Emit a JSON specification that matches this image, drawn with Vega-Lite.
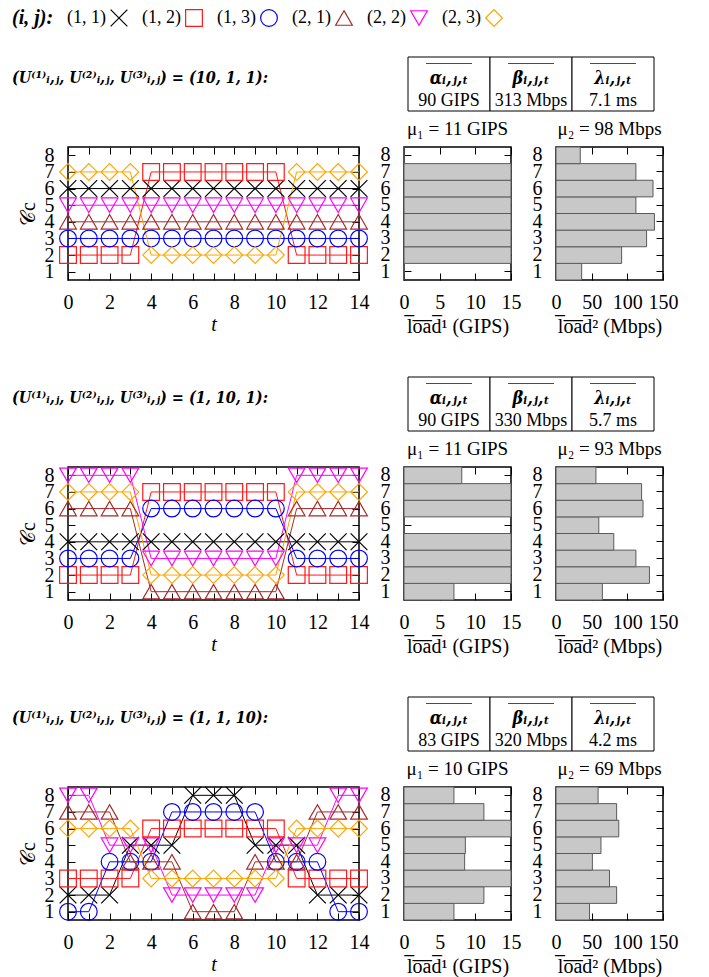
{
"$schema": "https://vega.github.io/schema/vega-lite/v6.json",
"background": "white",
"padding": {"left": 1, "top": 2, "right": 0, "bottom": 2},
"columns": 4,
"bounds": "flush",
"align": "each",
"spacing": {"row": 0, "column": 45},
"datasets": {
"legend": [
{"s":"11","lab":"(1, 1)"},{"s":"12","lab":"(1, 2)"},{"s":"13","lab":"(1, 3)"},{"s":"21","lab":"(2, 1)"},{"s":"22","lab":"(2, 2)"},{"s":"23","lab":"(2, 3)"}],
"titles": [
{"p":1,"lab":"(U⁽¹⁾ᵢ,ⱼ, U⁽²⁾ᵢ,ⱼ, U⁽³⁾ᵢ,ⱼ) = (10, 1, 1):"},
{"p":2,"lab":"(U⁽¹⁾ᵢ,ⱼ, U⁽²⁾ᵢ,ⱼ, U⁽³⁾ᵢ,ⱼ) = (1, 10, 1):"},
{"p":3,"lab":"(U⁽¹⁾ᵢ,ⱼ, U⁽²⁾ᵢ,ⱼ, U⁽³⁾ᵢ,ⱼ) = (1, 1, 10):"}],
"tables": [
{"p":1,"col":"a","head":"αᵢ,ⱼ,ₜ","val":"90 GIPS"},{"p":1,"col":"b","head":"βᵢ,ⱼ,ₜ","val":"313 Mbps"},{"p":1,"col":"l","head":"λᵢ,ⱼ,ₜ","val":"7.1 ms"},
{"p":2,"col":"a","head":"αᵢ,ⱼ,ₜ","val":"90 GIPS"},{"p":2,"col":"b","head":"βᵢ,ⱼ,ₜ","val":"330 Mbps"},{"p":2,"col":"l","head":"λᵢ,ⱼ,ₜ","val":"5.7 ms"},
{"p":3,"col":"a","head":"αᵢ,ⱼ,ₜ","val":"83 GIPS"},{"p":3,"col":"b","head":"βᵢ,ⱼ,ₜ","val":"320 Mbps"},{"p":3,"col":"l","head":"λᵢ,ⱼ,ₜ","val":"4.2 ms"}],
"bars": [
{"p":1,"k":1,"y":1,"v":0},{"p":1,"k":1,"y":2,"v":15},{"p":1,"k":1,"y":3,"v":15},{"p":1,"k":1,"y":4,"v":15},{"p":1,"k":1,"y":5,"v":15},{"p":1,"k":1,"y":6,"v":15},{"p":1,"k":1,"y":7,"v":15},{"p":1,"k":1,"y":8,"v":0},
{"p":1,"k":2,"y":1,"v":36},{"p":1,"k":2,"y":2,"v":92},{"p":1,"k":2,"y":3,"v":127},{"p":1,"k":2,"y":4,"v":138},{"p":1,"k":2,"y":5,"v":112},{"p":1,"k":2,"y":6,"v":136},{"p":1,"k":2,"y":7,"v":112},{"p":1,"k":2,"y":8,"v":34},
{"p":2,"k":1,"y":1,"v":7.0},{"p":2,"k":1,"y":2,"v":15},{"p":2,"k":1,"y":3,"v":15},{"p":2,"k":1,"y":4,"v":15},{"p":2,"k":1,"y":5,"v":0},{"p":2,"k":1,"y":6,"v":15},{"p":2,"k":1,"y":7,"v":15},{"p":2,"k":1,"y":8,"v":8.1},
{"p":2,"k":2,"y":1,"v":65},{"p":2,"k":2,"y":2,"v":131},{"p":2,"k":2,"y":3,"v":112},{"p":2,"k":2,"y":4,"v":81},{"p":2,"k":2,"y":5,"v":60},{"p":2,"k":2,"y":6,"v":122},{"p":2,"k":2,"y":7,"v":120},{"p":2,"k":2,"y":8,"v":56},
{"p":3,"k":1,"y":1,"v":7.0},{"p":3,"k":1,"y":2,"v":11.2},{"p":3,"k":1,"y":3,"v":15},{"p":3,"k":1,"y":4,"v":8.5},{"p":3,"k":1,"y":5,"v":8.6},{"p":3,"k":1,"y":6,"v":15},{"p":3,"k":1,"y":7,"v":11.2},{"p":3,"k":1,"y":8,"v":7.0},
{"p":3,"k":2,"y":1,"v":47},{"p":3,"k":2,"y":2,"v":85},{"p":3,"k":2,"y":3,"v":75},{"p":3,"k":2,"y":4,"v":51},{"p":3,"k":2,"y":5,"v":63},{"p":3,"k":2,"y":6,"v":88},{"p":3,"k":2,"y":7,"v":85},{"p":3,"k":2,"y":8,"v":59}],
"lines": [
{"p":1,"s":"11","t":0,"c":6},{"p":1,"s":"11","t":1,"c":6},{"p":1,"s":"11","t":2,"c":6},{"p":1,"s":"11","t":3,"c":6},{"p":1,"s":"11","t":4,"c":6},{"p":1,"s":"11","t":5,"c":6},{"p":1,"s":"11","t":6,"c":6},{"p":1,"s":"11","t":7,"c":6},{"p":1,"s":"11","t":8,"c":6},{"p":1,"s":"11","t":9,"c":6},{"p":1,"s":"11","t":10,"c":6},{"p":1,"s":"11","t":11,"c":6},{"p":1,"s":"11","t":12,"c":6},{"p":1,"s":"11","t":13,"c":6},{"p":1,"s":"11","t":14,"c":6},
{"p":1,"s":"12","t":0,"c":2},{"p":1,"s":"12","t":1,"c":2},{"p":1,"s":"12","t":2,"c":2},{"p":1,"s":"12","t":3,"c":2},{"p":1,"s":"12","t":4,"c":7},{"p":1,"s":"12","t":5,"c":7},{"p":1,"s":"12","t":6,"c":7},{"p":1,"s":"12","t":7,"c":7},{"p":1,"s":"12","t":8,"c":7},{"p":1,"s":"12","t":9,"c":7},{"p":1,"s":"12","t":10,"c":7},{"p":1,"s":"12","t":11,"c":2},{"p":1,"s":"12","t":12,"c":2},{"p":1,"s":"12","t":13,"c":2},{"p":1,"s":"12","t":14,"c":2},
{"p":1,"s":"13","t":0,"c":3},{"p":1,"s":"13","t":1,"c":3},{"p":1,"s":"13","t":2,"c":3},{"p":1,"s":"13","t":3,"c":3},{"p":1,"s":"13","t":4,"c":3},{"p":1,"s":"13","t":5,"c":3},{"p":1,"s":"13","t":6,"c":3},{"p":1,"s":"13","t":7,"c":3},{"p":1,"s":"13","t":8,"c":3},{"p":1,"s":"13","t":9,"c":3},{"p":1,"s":"13","t":10,"c":3},{"p":1,"s":"13","t":11,"c":3},{"p":1,"s":"13","t":12,"c":3},{"p":1,"s":"13","t":13,"c":3},{"p":1,"s":"13","t":14,"c":3},
{"p":1,"s":"21","t":0,"c":4},{"p":1,"s":"21","t":1,"c":4},{"p":1,"s":"21","t":2,"c":4},{"p":1,"s":"21","t":3,"c":4},{"p":1,"s":"21","t":4,"c":4},{"p":1,"s":"21","t":5,"c":4},{"p":1,"s":"21","t":6,"c":4},{"p":1,"s":"21","t":7,"c":4},{"p":1,"s":"21","t":8,"c":4},{"p":1,"s":"21","t":9,"c":4},{"p":1,"s":"21","t":10,"c":4},{"p":1,"s":"21","t":11,"c":4},{"p":1,"s":"21","t":12,"c":4},{"p":1,"s":"21","t":13,"c":4},{"p":1,"s":"21","t":14,"c":4},
{"p":1,"s":"22","t":0,"c":5},{"p":1,"s":"22","t":1,"c":5},{"p":1,"s":"22","t":2,"c":5},{"p":1,"s":"22","t":3,"c":5},{"p":1,"s":"22","t":4,"c":5},{"p":1,"s":"22","t":5,"c":5},{"p":1,"s":"22","t":6,"c":5},{"p":1,"s":"22","t":7,"c":5},{"p":1,"s":"22","t":8,"c":5},{"p":1,"s":"22","t":9,"c":5},{"p":1,"s":"22","t":10,"c":5},{"p":1,"s":"22","t":11,"c":5},{"p":1,"s":"22","t":12,"c":5},{"p":1,"s":"22","t":13,"c":5},{"p":1,"s":"22","t":14,"c":5},
{"p":1,"s":"23","t":0,"c":7},{"p":1,"s":"23","t":1,"c":7},{"p":1,"s":"23","t":2,"c":7},{"p":1,"s":"23","t":3,"c":7},{"p":1,"s":"23","t":4,"c":2},{"p":1,"s":"23","t":5,"c":2},{"p":1,"s":"23","t":6,"c":2},{"p":1,"s":"23","t":7,"c":2},{"p":1,"s":"23","t":8,"c":2},{"p":1,"s":"23","t":9,"c":2},{"p":1,"s":"23","t":10,"c":2},{"p":1,"s":"23","t":11,"c":7},{"p":1,"s":"23","t":12,"c":7},{"p":1,"s":"23","t":13,"c":7},{"p":1,"s":"23","t":14,"c":7},
{"p":2,"s":"11","t":0,"c":4},{"p":2,"s":"11","t":1,"c":4},{"p":2,"s":"11","t":2,"c":4},{"p":2,"s":"11","t":3,"c":4},{"p":2,"s":"11","t":4,"c":4},{"p":2,"s":"11","t":5,"c":4},{"p":2,"s":"11","t":6,"c":4},{"p":2,"s":"11","t":7,"c":4},{"p":2,"s":"11","t":8,"c":4},{"p":2,"s":"11","t":9,"c":4},{"p":2,"s":"11","t":10,"c":4},{"p":2,"s":"11","t":11,"c":4},{"p":2,"s":"11","t":12,"c":4},{"p":2,"s":"11","t":13,"c":4},{"p":2,"s":"11","t":14,"c":4},
{"p":2,"s":"12","t":0,"c":2},{"p":2,"s":"12","t":1,"c":2},{"p":2,"s":"12","t":2,"c":2},{"p":2,"s":"12","t":3,"c":2},{"p":2,"s":"12","t":4,"c":7},{"p":2,"s":"12","t":5,"c":7},{"p":2,"s":"12","t":6,"c":7},{"p":2,"s":"12","t":7,"c":7},{"p":2,"s":"12","t":8,"c":7},{"p":2,"s":"12","t":9,"c":7},{"p":2,"s":"12","t":10,"c":7},{"p":2,"s":"12","t":11,"c":2},{"p":2,"s":"12","t":12,"c":2},{"p":2,"s":"12","t":13,"c":2},{"p":2,"s":"12","t":14,"c":2},
{"p":2,"s":"13","t":0,"c":3},{"p":2,"s":"13","t":1,"c":3},{"p":2,"s":"13","t":2,"c":3},{"p":2,"s":"13","t":3,"c":3},{"p":2,"s":"13","t":4,"c":6},{"p":2,"s":"13","t":5,"c":6},{"p":2,"s":"13","t":6,"c":6},{"p":2,"s":"13","t":7,"c":6},{"p":2,"s":"13","t":8,"c":6},{"p":2,"s":"13","t":9,"c":6},{"p":2,"s":"13","t":10,"c":6},{"p":2,"s":"13","t":11,"c":3},{"p":2,"s":"13","t":12,"c":3},{"p":2,"s":"13","t":13,"c":3},{"p":2,"s":"13","t":14,"c":3},
{"p":2,"s":"21","t":0,"c":6},{"p":2,"s":"21","t":1,"c":6},{"p":2,"s":"21","t":2,"c":6},{"p":2,"s":"21","t":3,"c":6},{"p":2,"s":"21","t":4,"c":1},{"p":2,"s":"21","t":5,"c":1},{"p":2,"s":"21","t":6,"c":1},{"p":2,"s":"21","t":7,"c":1},{"p":2,"s":"21","t":8,"c":1},{"p":2,"s":"21","t":9,"c":1},{"p":2,"s":"21","t":10,"c":1},{"p":2,"s":"21","t":11,"c":6},{"p":2,"s":"21","t":12,"c":6},{"p":2,"s":"21","t":13,"c":6},{"p":2,"s":"21","t":14,"c":6},
{"p":2,"s":"22","t":0,"c":8},{"p":2,"s":"22","t":1,"c":8},{"p":2,"s":"22","t":2,"c":8},{"p":2,"s":"22","t":3,"c":8},{"p":2,"s":"22","t":4,"c":3},{"p":2,"s":"22","t":5,"c":3},{"p":2,"s":"22","t":6,"c":3},{"p":2,"s":"22","t":7,"c":3},{"p":2,"s":"22","t":8,"c":3},{"p":2,"s":"22","t":9,"c":3},{"p":2,"s":"22","t":10,"c":3},{"p":2,"s":"22","t":11,"c":8},{"p":2,"s":"22","t":12,"c":8},{"p":2,"s":"22","t":13,"c":8},{"p":2,"s":"22","t":14,"c":8},
{"p":2,"s":"23","t":0,"c":7},{"p":2,"s":"23","t":1,"c":7},{"p":2,"s":"23","t":2,"c":7},{"p":2,"s":"23","t":3,"c":7},{"p":2,"s":"23","t":4,"c":2},{"p":2,"s":"23","t":5,"c":2},{"p":2,"s":"23","t":6,"c":2},{"p":2,"s":"23","t":7,"c":2},{"p":2,"s":"23","t":8,"c":2},{"p":2,"s":"23","t":9,"c":2},{"p":2,"s":"23","t":10,"c":2},{"p":2,"s":"23","t":11,"c":7},{"p":2,"s":"23","t":12,"c":7},{"p":2,"s":"23","t":13,"c":7},{"p":2,"s":"23","t":14,"c":7},
{"p":3,"s":"11","t":0,"c":2},{"p":3,"s":"11","t":1,"c":2},{"p":3,"s":"11","t":2,"c":2},{"p":3,"s":"11","t":3,"c":5},{"p":3,"s":"11","t":4,"c":5},{"p":3,"s":"11","t":5,"c":5},{"p":3,"s":"11","t":6,"c":8},{"p":3,"s":"11","t":7,"c":8},{"p":3,"s":"11","t":8,"c":8},{"p":3,"s":"11","t":9,"c":5},{"p":3,"s":"11","t":10,"c":5},{"p":3,"s":"11","t":11,"c":5},{"p":3,"s":"11","t":12,"c":2},{"p":3,"s":"11","t":13,"c":2},{"p":3,"s":"11","t":14,"c":2},
{"p":3,"s":"12","t":0,"c":3},{"p":3,"s":"12","t":1,"c":3},{"p":3,"s":"12","t":2,"c":3},{"p":3,"s":"12","t":3,"c":3},{"p":3,"s":"12","t":4,"c":6},{"p":3,"s":"12","t":5,"c":6},{"p":3,"s":"12","t":6,"c":6},{"p":3,"s":"12","t":7,"c":6},{"p":3,"s":"12","t":8,"c":6},{"p":3,"s":"12","t":9,"c":6},{"p":3,"s":"12","t":10,"c":6},{"p":3,"s":"12","t":11,"c":3},{"p":3,"s":"12","t":12,"c":3},{"p":3,"s":"12","t":13,"c":3},{"p":3,"s":"12","t":14,"c":3},
{"p":3,"s":"13","t":0,"c":1},{"p":3,"s":"13","t":1,"c":1},{"p":3,"s":"13","t":2,"c":4},{"p":3,"s":"13","t":3,"c":4},{"p":3,"s":"13","t":4,"c":4},{"p":3,"s":"13","t":5,"c":7},{"p":3,"s":"13","t":6,"c":7},{"p":3,"s":"13","t":7,"c":7},{"p":3,"s":"13","t":8,"c":7},{"p":3,"s":"13","t":9,"c":7},{"p":3,"s":"13","t":10,"c":4},{"p":3,"s":"13","t":11,"c":4},{"p":3,"s":"13","t":12,"c":4},{"p":3,"s":"13","t":13,"c":1},{"p":3,"s":"13","t":14,"c":1},
{"p":3,"s":"21","t":0,"c":7},{"p":3,"s":"21","t":1,"c":7},{"p":3,"s":"21","t":2,"c":7},{"p":3,"s":"21","t":3,"c":4},{"p":3,"s":"21","t":4,"c":4},{"p":3,"s":"21","t":5,"c":4},{"p":3,"s":"21","t":6,"c":1},{"p":3,"s":"21","t":7,"c":1},{"p":3,"s":"21","t":8,"c":1},{"p":3,"s":"21","t":9,"c":4},{"p":3,"s":"21","t":10,"c":4},{"p":3,"s":"21","t":11,"c":4},{"p":3,"s":"21","t":12,"c":7},{"p":3,"s":"21","t":13,"c":7},{"p":3,"s":"21","t":14,"c":7},
{"p":3,"s":"22","t":0,"c":8},{"p":3,"s":"22","t":1,"c":8},{"p":3,"s":"22","t":2,"c":5},{"p":3,"s":"22","t":3,"c":5},{"p":3,"s":"22","t":4,"c":5},{"p":3,"s":"22","t":5,"c":2},{"p":3,"s":"22","t":6,"c":2},{"p":3,"s":"22","t":7,"c":2},{"p":3,"s":"22","t":8,"c":2},{"p":3,"s":"22","t":9,"c":2},{"p":3,"s":"22","t":10,"c":5},{"p":3,"s":"22","t":11,"c":5},{"p":3,"s":"22","t":12,"c":5},{"p":3,"s":"22","t":13,"c":8},{"p":3,"s":"22","t":14,"c":8},
{"p":3,"s":"23","t":0,"c":6},{"p":3,"s":"23","t":1,"c":6},{"p":3,"s":"23","t":2,"c":6},{"p":3,"s":"23","t":3,"c":6},{"p":3,"s":"23","t":4,"c":3},{"p":3,"s":"23","t":5,"c":3},{"p":3,"s":"23","t":6,"c":3},{"p":3,"s":"23","t":7,"c":3},{"p":3,"s":"23","t":8,"c":3},{"p":3,"s":"23","t":9,"c":3},{"p":3,"s":"23","t":10,"c":3},{"p":3,"s":"23","t":11,"c":6},{"p":3,"s":"23","t":12,"c":6},{"p":3,"s":"23","t":13,"c":6},{"p":3,"s":"23","t":14,"c":6}]
},
"concat": [
{"width": 22, "height": 20, "view": {"stroke": null}, "data": {"values": [{"lab": "(i, j):"}]}, "mark": {"type": "text", "align": "left", "baseline": "middle", "fontSize": 20, "fontWeight": "bold", "fontStyle": "italic"}, "encoding": {"text": {"field": "lab"}}},
{"width": 291, "height": 20, "view": {"stroke": null}, "data": {"name": "legend"},
 "encoding": {"x": {"field": "s", "type": "nominal", "sort": null, "scale": {"type": "point", "range": [51, 426], "padding": 0}, "axis": null}},
 "layer": [
  {"mark": {"type": "text", "align": "right", "baseline": "middle", "fontSize": 18, "dx": -13}, "encoding": {"text": {"field": "lab"}}},
  {"mark": {"type": "point", "filled": false, "size": 280, "strokeWidth": 1.2, "opacity": 1},
   "encoding": {
    "color": {"field": "s", "type": "nominal", "scale": {"domain": ["11","12","13","21","22","23"], "range": ["black","#ff1a1a","#0000ff","#a52a2a","#ff00ff","#ffa500"]}, "legend": null},
    "shape": {"field": "s", "type": "nominal", "scale": {"domain": ["11","12","13","21","22","23"], "range": ["M-1,-1L1,1M-1,1L1,-1","square","circle","triangle-up","triangle-down","diamond"]}, "legend": null}}}
 ]},
{"width": 1, "height": 49, "view": {"stroke": null}, "data": {"values": [{"e": ""}]}, "mark": "text", "encoding": {"text": {"field": "e"}}},
{"width": 1, "height": 1, "view": {"stroke": null}, "data": {"values": [{"e": ""}]}, "mark": "text", "encoding": {"text": {"field": "e"}}},

{"width": 22, "height": 42, "view": {"stroke": null}, "data": {"name": "titles"}, "transform": [{"filter": "datum.p == 1"}], "mark": {"type": "text", "align": "left", "baseline": "middle", "font": "DejaVu Serif Condensed, DejaVu Serif", "fontSize": 16, "fontWeight": "bold", "fontStyle": "italic"}, "encoding": {"text": {"field": "lab"}}},
{"width": 291, "height": 90, "view": {"stroke": null}, "data": {"values": [{"e": ""}]}, "mark": "text", "encoding": {"text": {"field": "e"}}},
{"width": 107, "height": 54, "view": {"stroke": null}, "data": {"name": "tables"}, "transform": [{"filter": "datum.p == 1"}],
 "encoding": {"x": {"field": "col", "type": "nominal", "sort": null, "scale": {"type": "band", "range": [4, 250], "paddingInner": 0, "paddingOuter": 0}, "axis": null}},
 "layer": [
  {"mark": {"type": "rect", "fill": "white", "stroke": "black", "strokeWidth": 1}},
  {"mark": {"type": "tick", "orient": "horizontal", "size": 46, "thickness": 1, "color": "black", "yOffset": -7}, "encoding": {"y": {"datum": "h", "type": "nominal", "scale": {"type": "point", "domain": ["h", "v"], "padding": 0.5}, "axis": null}}},
  {"mark": {"type": "text", "font": "DejaVu Serif Condensed, DejaVu Serif", "fontSize": 18, "fontWeight": "bold", "fontStyle": "italic", "baseline": "middle", "dy": 8}, "encoding": {"y": {"datum": "h", "type": "nominal", "axis": null}, "text": {"field": "head"}}},
  {"mark": {"type": "text", "fontSize": 18, "baseline": "middle", "dy": 3}, "encoding": {"y": {"datum": "v", "type": "nominal", "axis": null}, "text": {"field": "val"}}}
 ]},
{"width": 1, "height": 1, "view": {"stroke": null}, "data": {"values": [{"e": ""}]}, "mark": "text", "encoding": {"text": {"field": "e"}}},

{"width": 22, "height": 230, "view": {"stroke": null}, "data": {"values": [{"e": ""}]}, "mark": "text", "encoding": {"text": {"field": "e"}}},
{"width": 291, "height": 133, "data": {"name": "lines"}, "transform": [{"filter": "datum.p == 1"}],
 "encoding": {"color": {"field": "s", "type": "nominal", "scale": {"domain": ["11","12","13","21","22","23"], "range": ["black","#ff1a1a","#0000ff","#a52a2a","#ff00ff","#ffa500"]}, "legend": null}},
 "layer": [
  {"mark": {"type": "line", "strokeWidth": 1},
   "encoding": {
    "x": {"field": "t", "type": "quantitative", "scale": {"domain": [0, 14], "nice": false}, "axis": {"values": [0,1,2,3,4,5,6,7,8,9,10,11,12,13,14], "labelExpr": "datum.value % 2 === 0 ? datum.label : ''", "title": "t", "titleFontStyle": "italic", "titlePadding": 2}},
    "y": {"field": "c", "type": "quantitative", "scale": {"domain": [0.5, 8.5], "nice": false, "zero": false}, "axis": {"values": [1,2,3,4,5,6,7,8], "title": "𝒞c", "titlePadding": 6}}}},
  {"mark": {"type": "point", "filled": false, "size": 280, "strokeWidth": 1.2, "opacity": 1},
   "encoding": {
    "x": {"field": "t", "type": "quantitative", "axis": {"orient": "top", "values": [0,1,2,3,4,5,6,7,8,9,10,11,12,13,14], "labels": false, "title": null}},
    "y": {"field": "c", "type": "quantitative", "axis": {"orient": "right", "values": [1,2,3,4,5,6,7,8], "labels": false, "title": null}},
    "shape": {"field": "s", "type": "nominal", "scale": {"domain": ["11","12","13","21","22","23"], "range": ["M-1,-1L1,1M-1,1L1,-1","square","circle","triangle-up","triangle-down","diamond"]}, "legend": null}}}
 ],
 "resolve": {"axis": {"x": "independent", "y": "independent"}}},
{"width": 107, "height": 133, "title": {"text": "μ₁ = 11 GIPS"}, "data": {"name": "bars"}, "transform": [{"filter": "datum.p == 1 && datum.k == 1"}],
 "layer": [
  {"mark": {"type": "bar", "fill": "#c8c8c8", "stroke": "#5a5a5a", "strokeWidth": 1},
   "encoding": {
    "x": {"field": "v", "type": "quantitative", "scale": {"domain": [0, 15], "nice": false}, "axis": {"values": [0,5,10,15], "title": "l̅o̅a̅d̅¹ (GIPS)"}},
    "y": {"field": "y", "type": "ordinal", "sort": "descending", "scale": {"paddingInner": 0, "paddingOuter": 0}, "axis": {"title": null, "labelAngle": 0, "bandPosition": 0.5}}}},
  {"mark": {"type": "bar", "opacity": 0},
   "encoding": {
    "x": {"field": "v", "type": "quantitative", "axis": {"orient": "top", "values": [0,5,10,15], "labels": false, "title": null}},
    "y": {"field": "y", "type": "ordinal", "sort": "descending", "axis": {"orient": "right", "labels": false, "title": null, "bandPosition": 0.5}}}}
 ],
 "resolve": {"axis": {"x": "independent", "y": "independent"}}},
{"width": 107, "height": 133, "title": {"text": "μ₂ = 98 Mbps"}, "data": {"name": "bars"}, "transform": [{"filter": "datum.p == 1 && datum.k == 2"}],
 "layer": [
  {"mark": {"type": "bar", "fill": "#c8c8c8", "stroke": "#5a5a5a", "strokeWidth": 1},
   "encoding": {
    "x": {"field": "v", "type": "quantitative", "scale": {"domain": [0, 150], "nice": false}, "axis": {"values": [0,50,100,150], "title": "l̅o̅a̅d̅² (Mbps)"}},
    "y": {"field": "y", "type": "ordinal", "sort": "descending", "scale": {"paddingInner": 0, "paddingOuter": 0}, "axis": {"title": null, "labelAngle": 0, "bandPosition": 0.5}}}},
  {"mark": {"type": "bar", "opacity": 0},
   "encoding": {
    "x": {"field": "v", "type": "quantitative", "axis": {"orient": "top", "values": [0,50,100,150], "labels": false, "title": null}},
    "y": {"field": "y", "type": "ordinal", "sort": "descending", "axis": {"orient": "right", "labels": false, "title": null, "bandPosition": 0.5}}}}
 ],
 "resolve": {"axis": {"x": "independent", "y": "independent"}}},

{"width": 22, "height": 42, "view": {"stroke": null}, "data": {"name": "titles"}, "transform": [{"filter": "datum.p == 2"}], "mark": {"type": "text", "align": "left", "baseline": "middle", "font": "DejaVu Serif Condensed, DejaVu Serif", "fontSize": 16, "fontWeight": "bold", "fontStyle": "italic"}, "encoding": {"text": {"field": "lab"}}},
{"width": 291, "height": 90, "view": {"stroke": null}, "data": {"values": [{"e": ""}]}, "mark": "text", "encoding": {"text": {"field": "e"}}},
{"width": 107, "height": 54, "view": {"stroke": null}, "data": {"name": "tables"}, "transform": [{"filter": "datum.p == 2"}],
 "encoding": {"x": {"field": "col", "type": "nominal", "sort": null, "scale": {"type": "band", "range": [4, 250], "paddingInner": 0, "paddingOuter": 0}, "axis": null}},
 "layer": [
  {"mark": {"type": "rect", "fill": "white", "stroke": "black", "strokeWidth": 1}},
  {"mark": {"type": "tick", "orient": "horizontal", "size": 46, "thickness": 1, "color": "black", "yOffset": -7}, "encoding": {"y": {"datum": "h", "type": "nominal", "scale": {"type": "point", "domain": ["h", "v"], "padding": 0.5}, "axis": null}}},
  {"mark": {"type": "text", "font": "DejaVu Serif Condensed, DejaVu Serif", "fontSize": 18, "fontWeight": "bold", "fontStyle": "italic", "baseline": "middle", "dy": 8}, "encoding": {"y": {"datum": "h", "type": "nominal", "axis": null}, "text": {"field": "head"}}},
  {"mark": {"type": "text", "fontSize": 18, "baseline": "middle", "dy": 3}, "encoding": {"y": {"datum": "v", "type": "nominal", "axis": null}, "text": {"field": "val"}}}
 ]},
{"width": 1, "height": 1, "view": {"stroke": null}, "data": {"values": [{"e": ""}]}, "mark": "text", "encoding": {"text": {"field": "e"}}},

{"width": 22, "height": 230, "view": {"stroke": null}, "data": {"values": [{"e": ""}]}, "mark": "text", "encoding": {"text": {"field": "e"}}},
{"width": 291, "height": 133, "data": {"name": "lines"}, "transform": [{"filter": "datum.p == 2"}],
 "encoding": {"color": {"field": "s", "type": "nominal", "scale": {"domain": ["11","12","13","21","22","23"], "range": ["black","#ff1a1a","#0000ff","#a52a2a","#ff00ff","#ffa500"]}, "legend": null}},
 "layer": [
  {"mark": {"type": "line", "strokeWidth": 1},
   "encoding": {
    "x": {"field": "t", "type": "quantitative", "scale": {"domain": [0, 14], "nice": false}, "axis": {"values": [0,1,2,3,4,5,6,7,8,9,10,11,12,13,14], "labelExpr": "datum.value % 2 === 0 ? datum.label : ''", "title": "t", "titleFontStyle": "italic", "titlePadding": 2}},
    "y": {"field": "c", "type": "quantitative", "scale": {"domain": [0.5, 8.5], "nice": false, "zero": false}, "axis": {"values": [1,2,3,4,5,6,7,8], "title": "𝒞c", "titlePadding": 6}}}},
  {"mark": {"type": "point", "filled": false, "size": 280, "strokeWidth": 1.2, "opacity": 1},
   "encoding": {
    "x": {"field": "t", "type": "quantitative", "axis": {"orient": "top", "values": [0,1,2,3,4,5,6,7,8,9,10,11,12,13,14], "labels": false, "title": null}},
    "y": {"field": "c", "type": "quantitative", "axis": {"orient": "right", "values": [1,2,3,4,5,6,7,8], "labels": false, "title": null}},
    "shape": {"field": "s", "type": "nominal", "scale": {"domain": ["11","12","13","21","22","23"], "range": ["M-1,-1L1,1M-1,1L1,-1","square","circle","triangle-up","triangle-down","diamond"]}, "legend": null}}}
 ],
 "resolve": {"axis": {"x": "independent", "y": "independent"}}},
{"width": 107, "height": 133, "title": {"text": "μ₁ = 11 GIPS"}, "data": {"name": "bars"}, "transform": [{"filter": "datum.p == 2 && datum.k == 1"}],
 "layer": [
  {"mark": {"type": "bar", "fill": "#c8c8c8", "stroke": "#5a5a5a", "strokeWidth": 1},
   "encoding": {
    "x": {"field": "v", "type": "quantitative", "scale": {"domain": [0, 15], "nice": false}, "axis": {"values": [0,5,10,15], "title": "l̅o̅a̅d̅¹ (GIPS)"}},
    "y": {"field": "y", "type": "ordinal", "sort": "descending", "scale": {"paddingInner": 0, "paddingOuter": 0}, "axis": {"title": null, "labelAngle": 0, "bandPosition": 0.5}}}},
  {"mark": {"type": "bar", "opacity": 0},
   "encoding": {
    "x": {"field": "v", "type": "quantitative", "axis": {"orient": "top", "values": [0,5,10,15], "labels": false, "title": null}},
    "y": {"field": "y", "type": "ordinal", "sort": "descending", "axis": {"orient": "right", "labels": false, "title": null, "bandPosition": 0.5}}}}
 ],
 "resolve": {"axis": {"x": "independent", "y": "independent"}}},
{"width": 107, "height": 133, "title": {"text": "μ₂ = 93 Mbps"}, "data": {"name": "bars"}, "transform": [{"filter": "datum.p == 2 && datum.k == 2"}],
 "layer": [
  {"mark": {"type": "bar", "fill": "#c8c8c8", "stroke": "#5a5a5a", "strokeWidth": 1},
   "encoding": {
    "x": {"field": "v", "type": "quantitative", "scale": {"domain": [0, 150], "nice": false}, "axis": {"values": [0,50,100,150], "title": "l̅o̅a̅d̅² (Mbps)"}},
    "y": {"field": "y", "type": "ordinal", "sort": "descending", "scale": {"paddingInner": 0, "paddingOuter": 0}, "axis": {"title": null, "labelAngle": 0, "bandPosition": 0.5}}}},
  {"mark": {"type": "bar", "opacity": 0},
   "encoding": {
    "x": {"field": "v", "type": "quantitative", "axis": {"orient": "top", "values": [0,50,100,150], "labels": false, "title": null}},
    "y": {"field": "y", "type": "ordinal", "sort": "descending", "axis": {"orient": "right", "labels": false, "title": null, "bandPosition": 0.5}}}}
 ],
 "resolve": {"axis": {"x": "independent", "y": "independent"}}},

{"width": 22, "height": 42, "view": {"stroke": null}, "data": {"name": "titles"}, "transform": [{"filter": "datum.p == 3"}], "mark": {"type": "text", "align": "left", "baseline": "middle", "font": "DejaVu Serif Condensed, DejaVu Serif", "fontSize": 16, "fontWeight": "bold", "fontStyle": "italic"}, "encoding": {"text": {"field": "lab"}}},
{"width": 291, "height": 90, "view": {"stroke": null}, "data": {"values": [{"e": ""}]}, "mark": "text", "encoding": {"text": {"field": "e"}}},
{"width": 107, "height": 54, "view": {"stroke": null}, "data": {"name": "tables"}, "transform": [{"filter": "datum.p == 3"}],
 "encoding": {"x": {"field": "col", "type": "nominal", "sort": null, "scale": {"type": "band", "range": [4, 250], "paddingInner": 0, "paddingOuter": 0}, "axis": null}},
 "layer": [
  {"mark": {"type": "rect", "fill": "white", "stroke": "black", "strokeWidth": 1}},
  {"mark": {"type": "tick", "orient": "horizontal", "size": 46, "thickness": 1, "color": "black", "yOffset": -7}, "encoding": {"y": {"datum": "h", "type": "nominal", "scale": {"type": "point", "domain": ["h", "v"], "padding": 0.5}, "axis": null}}},
  {"mark": {"type": "text", "font": "DejaVu Serif Condensed, DejaVu Serif", "fontSize": 18, "fontWeight": "bold", "fontStyle": "italic", "baseline": "middle", "dy": 8}, "encoding": {"y": {"datum": "h", "type": "nominal", "axis": null}, "text": {"field": "head"}}},
  {"mark": {"type": "text", "fontSize": 18, "baseline": "middle", "dy": 3}, "encoding": {"y": {"datum": "v", "type": "nominal", "axis": null}, "text": {"field": "val"}}}
 ]},
{"width": 1, "height": 1, "view": {"stroke": null}, "data": {"values": [{"e": ""}]}, "mark": "text", "encoding": {"text": {"field": "e"}}},

{"width": 22, "height": 1, "view": {"stroke": null}, "data": {"values": [{"e": ""}]}, "mark": "text", "encoding": {"text": {"field": "e"}}},
{"width": 291, "height": 133, "data": {"name": "lines"}, "transform": [{"filter": "datum.p == 3"}],
 "encoding": {"color": {"field": "s", "type": "nominal", "scale": {"domain": ["11","12","13","21","22","23"], "range": ["black","#ff1a1a","#0000ff","#a52a2a","#ff00ff","#ffa500"]}, "legend": null}},
 "layer": [
  {"mark": {"type": "line", "strokeWidth": 1},
   "encoding": {
    "x": {"field": "t", "type": "quantitative", "scale": {"domain": [0, 14], "nice": false}, "axis": {"values": [0,1,2,3,4,5,6,7,8,9,10,11,12,13,14], "labelExpr": "datum.value % 2 === 0 ? datum.label : ''", "title": "t", "titleFontStyle": "italic", "titlePadding": 2}},
    "y": {"field": "c", "type": "quantitative", "scale": {"domain": [0.5, 8.5], "nice": false, "zero": false}, "axis": {"values": [1,2,3,4,5,6,7,8], "title": "𝒞c", "titlePadding": 6}}}},
  {"mark": {"type": "point", "filled": false, "size": 280, "strokeWidth": 1.2, "opacity": 1},
   "encoding": {
    "x": {"field": "t", "type": "quantitative", "axis": {"orient": "top", "values": [0,1,2,3,4,5,6,7,8,9,10,11,12,13,14], "labels": false, "title": null}},
    "y": {"field": "c", "type": "quantitative", "axis": {"orient": "right", "values": [1,2,3,4,5,6,7,8], "labels": false, "title": null}},
    "shape": {"field": "s", "type": "nominal", "scale": {"domain": ["11","12","13","21","22","23"], "range": ["M-1,-1L1,1M-1,1L1,-1","square","circle","triangle-up","triangle-down","diamond"]}, "legend": null}}}
 ],
 "resolve": {"axis": {"x": "independent", "y": "independent"}}},
{"width": 107, "height": 133, "title": {"text": "μ₁ = 10 GIPS"}, "data": {"name": "bars"}, "transform": [{"filter": "datum.p == 3 && datum.k == 1"}],
 "layer": [
  {"mark": {"type": "bar", "fill": "#c8c8c8", "stroke": "#5a5a5a", "strokeWidth": 1},
   "encoding": {
    "x": {"field": "v", "type": "quantitative", "scale": {"domain": [0, 15], "nice": false}, "axis": {"values": [0,5,10,15], "title": "l̅o̅a̅d̅¹ (GIPS)"}},
    "y": {"field": "y", "type": "ordinal", "sort": "descending", "scale": {"paddingInner": 0, "paddingOuter": 0}, "axis": {"title": null, "labelAngle": 0, "bandPosition": 0.5}}}},
  {"mark": {"type": "bar", "opacity": 0},
   "encoding": {
    "x": {"field": "v", "type": "quantitative", "axis": {"orient": "top", "values": [0,5,10,15], "labels": false, "title": null}},
    "y": {"field": "y", "type": "ordinal", "sort": "descending", "axis": {"orient": "right", "labels": false, "title": null, "bandPosition": 0.5}}}}
 ],
 "resolve": {"axis": {"x": "independent", "y": "independent"}}},
{"width": 107, "height": 133, "title": {"text": "μ₂ = 69 Mbps"}, "data": {"name": "bars"}, "transform": [{"filter": "datum.p == 3 && datum.k == 2"}],
 "layer": [
  {"mark": {"type": "bar", "fill": "#c8c8c8", "stroke": "#5a5a5a", "strokeWidth": 1},
   "encoding": {
    "x": {"field": "v", "type": "quantitative", "scale": {"domain": [0, 150], "nice": false}, "axis": {"values": [0,50,100,150], "title": "l̅o̅a̅d̅² (Mbps)"}},
    "y": {"field": "y", "type": "ordinal", "sort": "descending", "scale": {"paddingInner": 0, "paddingOuter": 0}, "axis": {"title": null, "labelAngle": 0, "bandPosition": 0.5}}}},
  {"mark": {"type": "bar", "opacity": 0},
   "encoding": {
    "x": {"field": "v", "type": "quantitative", "axis": {"orient": "top", "values": [0,50,100,150], "labels": false, "title": null}},
    "y": {"field": "y", "type": "ordinal", "sort": "descending", "axis": {"orient": "right", "labels": false, "title": null, "bandPosition": 0.5}}}}
 ],
 "resolve": {"axis": {"x": "independent", "y": "independent"}}}
],
"config": {
 "font": "Liberation Serif",
 "view": {"stroke": "black", "strokeWidth": 1.5},
 "axis": {"domain": false, "grid": false, "ticks": true, "tickColor": "black", "tickWidth": 1, "tickSize": -7, "labelFont": "Liberation Serif", "labelFontSize": 20, "labelColor": "black", "labelPadding": 19, "labelOverlap": false, "labelFlush": false, "titleFont": "Liberation Serif", "titleFontSize": 20, "titleFontWeight": "normal", "titleColor": "black", "zindex": 1},
 "axisY": {"labelPadding": 21},
 "title": {"font": "Liberation Serif", "fontSize": 19, "fontWeight": "normal", "color": "black", "offset": 6},
 "text": {"font": "Liberation Serif", "color": "black"}
}
}
